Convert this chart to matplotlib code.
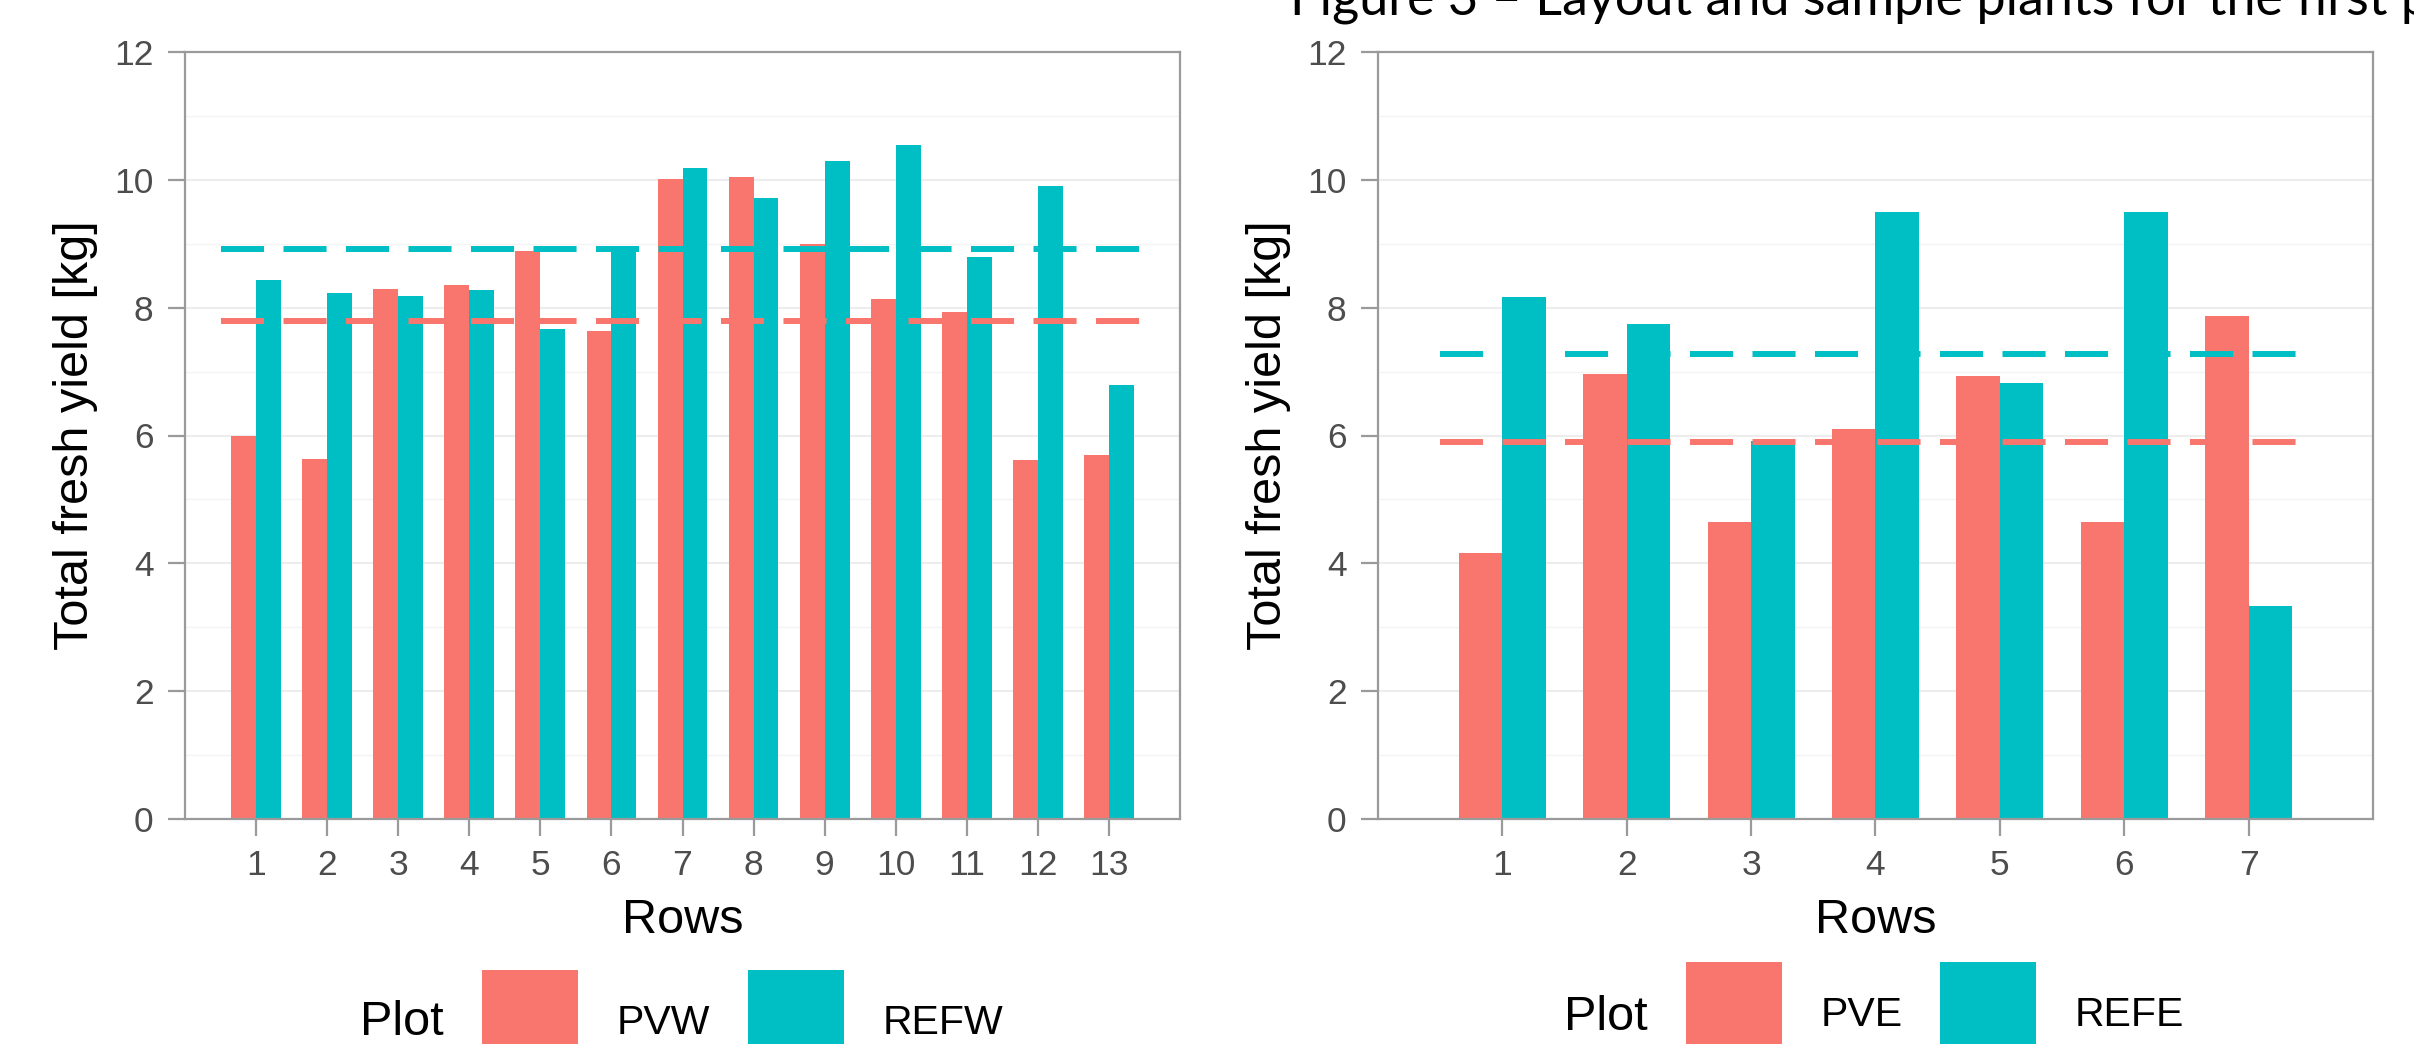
import matplotlib
matplotlib.use("Agg")
import matplotlib.pyplot as plt
from matplotlib.patches import Rectangle
import numpy as np

# ---- data ----
rows_w = list(range(1, 14))
pvw = [6.00, 5.63, 8.29, 8.36, 8.88, 7.63, 10.02, 10.05, 9.00, 8.14, 7.93, 5.61, 5.70]
refw = [8.43, 8.23, 8.19, 8.28, 7.66, 8.94, 10.18, 9.71, 10.29, 10.55, 8.80, 9.90, 6.79]

rows_e = list(range(1, 8))
pve = [4.16, 6.97, 4.64, 6.10, 6.93, 4.65, 7.87]
refe = [8.16, 7.74, 5.91, 9.50, 6.82, 9.49, 3.34]

yticks = [0, 2, 4, 6, 8, 10, 12]
labels_w = ["PVW", "REFW"]
labels_e = ["PVE", "REFE"]
title_text = "Figure 3 \u2013 Layout and sample plants for the first plot"

PINK = "#F8766D"
TEAL = "#00BFC4"

plt.rcParams['font.family'] = ['Liberation Sans', 'DejaVu Sans']
plt.rcParams['lines.scale_dashes'] = False

W, H = 2414, 1044
fig = plt.figure(figsize=(W / 100, H / 100), dpi=100)
renderer = fig.canvas.get_renderer()


def px2fig(x, y):
    return x / W, 1 - y / H


def manual_legend(plot_right, key_top, plot_baseline, labs):
    fx, fy = px2fig(plot_right, plot_baseline)
    fig.text(fx, fy, "Plot", fontsize=35, ha='right', va='baseline', color='black')
    x = plot_right + 38
    kw, kh = 96, 96
    for col, lab in zip((PINK, TEAL), labs):
        rx, ry = px2fig(x, key_top + kh)
        fig.add_artist(Rectangle((rx, ry), kw / W, kh / H, transform=fig.transFigure,
                                 facecolor=col, edgecolor='none'))
        x += kw + 39
        tx, ty = px2fig(x, key_top + 64)
        t = fig.text(tx, ty, lab, fontsize=29.5, ha='left', va='baseline', color='black')
        wpx = t.get_window_extent(renderer=renderer).width
        x += wpx + 37


def panel(left_px, rows, a, b, labs, key_top, plot_right, plot_baseline):
    x0 = left_px / W
    width = 995 / W
    y0 = 1 - 819 / H
    height = 767 / H
    ax = fig.add_axes([x0, y0, width, height])
    n = len(rows)
    x = np.array(rows, dtype=float)
    bw = 0.35
    ax.bar(x - bw / 2, a, width=bw, color=PINK, zorder=2, linewidth=0)
    ax.bar(x + bw / 2, b, width=bw, color=TEAL, zorder=2, linewidth=0)
    for vals, col in ((b, TEAL), (a, PINK)):
        ax.hlines(np.mean(vals), 0.5, n + 0.5, colors=col, linewidth=4.3,
                  linestyles=(0, (31, 14)), zorder=3, capstyle='butt')
    ax.set_xlim(0, n + 1)
    ax.set_ylim(0, 12)
    ax.set_xticks(rows)
    ax.set_xticklabels([str(r) for r in rows])
    ax.set_yticks(yticks)
    ax.set_yticks([1, 3, 5, 7, 9, 11], minor=True)
    ax.grid(axis='y', which='major', color='#EDEDED', linewidth=1.5, zorder=0)
    ax.grid(axis='y', which='minor', color='#F4F4F4', linewidth=1.0, zorder=0)
    ax.grid(axis='x', visible=False)
    ax.set_axisbelow(True)
    for s in ax.spines.values():
        s.set_color('#9A9A9A')
        s.set_linewidth(1.6)
    ax.tick_params(axis='both', which='major', length=12.2, width=1.6, color='#9A9A9A',
                   labelsize=25.5, labelcolor='#4D4D4D')
    ax.tick_params(axis='x', pad=9.5)
    ax.tick_params(axis='y', pad=10.5)
    ax.tick_params(which='minor', length=0)
    ax.set_ylabel("Total fresh yield [kg]", fontsize=35, color='black')
    ax.yaxis.set_label_coords(-87 / 995, 0.5)
    ax.set_xlabel("Rows", fontsize=35, color='black')
    ax.xaxis.set_label_coords(0.5, -(898 - 819) / 767)

    manual_legend(plot_right, key_top, plot_baseline, labs)
    return ax


panel(185, rows_w, pvw, refw, labels_w, 970, 444, 1035)
panel(1378, rows_e, pve, refe, labels_e, 962, 1648, 1030)

tx, ty = px2fig(1290, 14)
fig.text(tx, ty, title_text, fontsize=37.5, family=['Lato', 'DejaVu Sans'],
         ha='left', va='baseline', color='black')

fig.savefig("out.png", dpi=100, facecolor='white')
